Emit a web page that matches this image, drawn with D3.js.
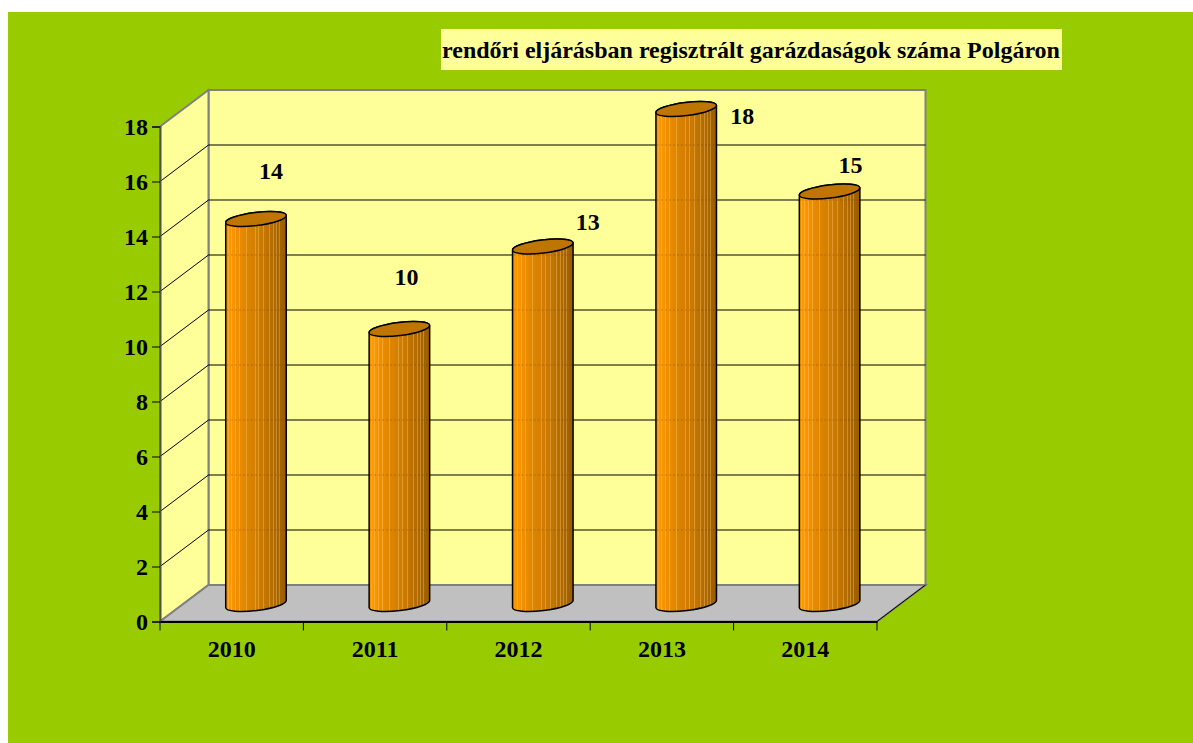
<!DOCTYPE html>
<html><head><meta charset="utf-8">
<script src="https://cdn.jsdelivr.net/npm/d3@7"></script>
<style>html,body{margin:0;padding:0;background:#fff}svg{display:block}text{font-family:"Liberation Serif",serif;font-weight:bold;fill:#000}</style>
</head><body><div id="c"></div>
<script>
const categories = ["2010","2011","2012","2013","2014"];
const values = [14,10,13,18,15];
const yTicks = [0,2,4,6,8,10,12,14,16,18];
const chartTitle = "rendőri eljárásban regisztrált garázdaságok száma Polgáron";
const labelDx = [15,7,45,56,21];
const labelDy = [-48,-52,-24.5,7,-26.5];
const stripePx = [2,5,9,13,20,29,33,38,44,48,51,54];

const W=1193,H=743,FS=24;
const svg=d3.select("#c").append("svg").attr("width",W).attr("height",H);
svg.append("rect").attr("x",8).attr("y",12).attr("width",W-8).attr("height",H-12).attr("fill","#99cc00");
const L=160,R=877,dx=48.5,dy=-36.5;
const y=d3.scaleLinear().domain([0,18]).range([621.5,126.5]);
const x=d3.scaleBand().domain(categories).range([L,R]);

// banded cylinder shading
const rx=30.5,ry=6.5,rot=-7,off=24.3,base=-17.5;
const shade=d3.scaleLinear().domain([0,.06,.3,.6,1]).range(["#ee8e00","#ff9900","#e28700","#ca7900","#985c00"]);
const grad=svg.append("defs").append("linearGradient").attr("id","g");
const addStop=(o,c)=>grad.append("stop").attr("offset",o).attr("stop-color",c);
let pos=0;
stripePx.forEach(p=>{
  const a=p/61,b=(p+1)/61;
  addStop(pos,shade(pos)); addStop(a,shade(a));
  const lit=d3.interpolateRgb(shade(a),"#ffd080")(.35);
  addStop(a,lit); addStop(b,lit);
  pos=b;
});
addStop(pos,shade(pos)); addStop(1,shade(1));

// walls
const poly=p=>p.map(q=>q.join(",")).join(" ");
svg.append("polygon").attr("points",poly([[L+dx,y(18)+dy],[R+dx,y(18)+dy],[R+dx,y(0)+dy],[L+dx,y(0)+dy]])).attr("fill","#ffff99").attr("stroke","#808080").attr("stroke-width",2);
svg.append("polygon").attr("points",poly([[L,y(18)],[L+dx,y(18)+dy],[L+dx,y(0)+dy],[L,y(0)]])).attr("fill","#ffff99").attr("stroke","#808080").attr("stroke-width",2);
svg.append("polygon").attr("points",poly([[L,y(0)],[L+dx,y(0)+dy],[R+dx,y(0)+dy],[R,y(0)]])).attr("fill","#c0c0c0").attr("stroke","#808080").attr("stroke-width",2);
// gridlines
yTicks.slice(1,-1).forEach(t=>{
  svg.append("polyline").attr("points",poly([[L,y(t)],[L+dx,y(t)+dy],[R+dx,y(t)+dy]])).attr("fill","none").attr("stroke","#000").attr("stroke-width",1);
});
svg.append("line").attr("x1",R).attr("y1",y(0)).attr("x2",R+dx).attr("y2",y(0)+dy).attr("stroke","#000");
// axes
const ay=svg.append("g").attr("transform",`translate(${L},0)`).call(d3.axisLeft(y).tickValues(yTicks).tickSize(8).tickPadding(4));
ay.select(".domain").attr("stroke","#505050").attr("stroke-width",2);
const ax=svg.append("g").attr("transform",`translate(0,${y(0)})`).call(d3.axisBottom(x).tickSize(0).tickPadding(18.5));
ax.select(".domain").attr("stroke","#000").attr("stroke-width",2);
ax.selectAll(".cat").data(categories.concat("end")).enter().append("line").attr("class","cat")
  .attr("x1",(d,i)=>L+i*x.step()).attr("x2",(d,i)=>L+i*x.step()).attr("y1",0).attr("y2",9).attr("stroke","#000");
svg.selectAll(".tick text").style("font-size",FS+"px").style("font-family",'"Liberation Serif",serif').style("font-weight","bold");
ay.selectAll(".tick text").attr("dy",".34em");
ay.selectAll(".tick line").attr("stroke","#000");

// cylinders
const cyl=svg.selectAll(".cyl").data(categories).enter().append("g");
cyl.each(function(c,i){
  const g=d3.select(this),cx=x(c)+x.bandwidth()/2+off,yb=y(0)+base,yt=y(values[i])+base;
  const a=rot*Math.PI/180;
  const hx=rx*Math.cos(a),hy=rx*Math.sin(a);
  const path=`M${cx-hx},${yt-hy}A${rx},${ry} ${rot} 0 1 ${cx+hx},${yt+hy}L${cx+hx},${yb+hy}A${rx},${ry} ${rot} 0 1 ${cx-hx},${yb-hy}Z`;
  g.append("path").attr("d",path).attr("fill","url(#g)").attr("stroke","#000").attr("stroke-width",1.5);
  // gridlines faintly showing through the cylinder
  yTicks.slice(1,-1).filter(t=>y(t)+dy>yt+8).forEach(t=>{
    g.append("line").attr("x1",cx-hx+1).attr("x2",cx+hx-1).attr("y1",y(t)+dy).attr("y2",y(t)+dy)
      .attr("stroke","#6b4200").attr("stroke-width",1).attr("stroke-dasharray","2 2").attr("opacity",.35);
  });
  g.append("ellipse").attr("cx",cx).attr("cy",yt).attr("rx",rx).attr("ry",ry)
    .attr("transform",`rotate(${rot} ${cx} ${yt})`).attr("fill","#bf7600").attr("stroke","#000").attr("stroke-width",1.5);
  g.append("text").attr("x",cx+labelDx[i]).attr("y",yt+labelDy[i]+8).attr("text-anchor","middle").style("font-size",FS+"px").text(values[i]);
});
// title
svg.append("rect").attr("x",441).attr("y",29).attr("width",621).attr("height",41).attr("fill","#ffff99");
svg.append("text").attr("x",751).attr("y",58).attr("text-anchor","middle").style("font-size",FS+"px").text(chartTitle);
</script></body></html>
